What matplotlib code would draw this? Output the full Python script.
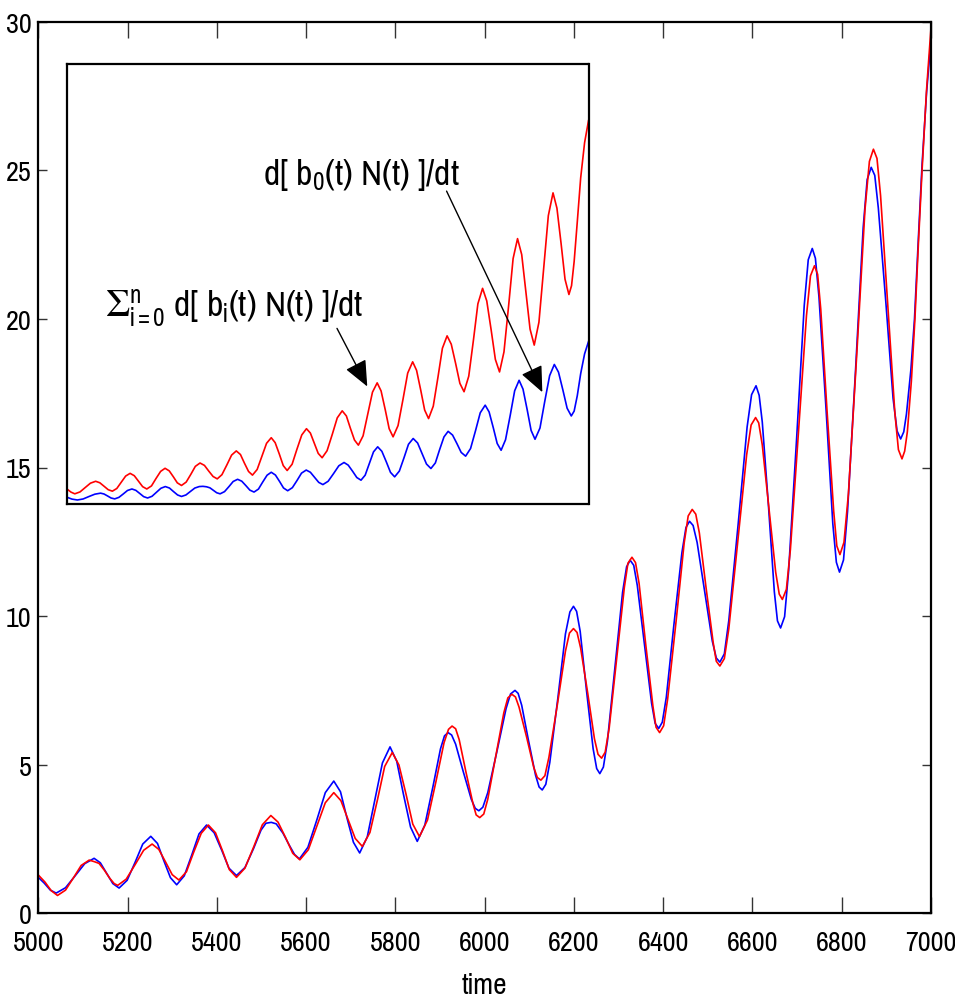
import matplotlib
matplotlib.use("Agg")
import matplotlib.pyplot as plt
from matplotlib import font_manager as fm

_names = {f.name for f in fm.fontManager.ttflist}
_cands = ['Nimbus Sans Narrow', 'Liberation Sans Narrow', 'Arial Narrow', 'Pragati Narrow',
          'Archivo Narrow', 'Roboto Condensed', 'PT Sans Narrow', 'Liberation Sans']
FONT = next((c for c in _cands if c in _names), 'DejaVu Sans')
plt.rcParams['font.family'] = [FONT, 'DejaVu Sans']
plt.rcParams['mathtext.fontset'] = 'custom'
plt.rcParams['mathtext.rm'] = FONT
plt.rcParams['mathtext.it'] = FONT
plt.rcParams['mathtext.bf'] = FONT
plt.rcParams['mathtext.sf'] = FONT

# ---------------- main plot data: (time, value) ----------------
blue_main = [
    (5000, 1.21), (5013, 1.02), (5027, 0.78), (5040, 0.68), (5061, 0.86), (5083, 1.27),
    (5104, 1.67), (5125, 1.85), (5139, 1.70), (5153, 1.35), (5167, 1.00), (5181, 0.85),
    (5199, 1.11), (5217, 1.72), (5234, 2.33), (5252, 2.59), (5267, 2.35), (5281, 1.78),
    (5296, 1.20), (5310, 0.96), (5327, 1.26), (5344, 1.97), (5360, 2.67), (5377, 2.97),
    (5394, 2.71), (5411, 2.12), (5427, 1.52), (5444, 1.27), (5463, 1.54), (5482, 2.17),
    (5499, 2.80), (5510, 3.03), (5522, 3.06), (5533, 3.01), (5548, 2.70), (5562, 2.30),
    (5574, 1.98), (5585, 1.83), (5604, 2.22), (5624, 3.14), (5643, 4.06), (5662, 4.45),
    (5677, 4.09), (5691, 3.24), (5706, 2.39), (5720, 2.03), (5737, 2.57), (5754, 3.82),
    (5771, 5.06), (5788, 5.60), (5803, 5.12), (5818, 4.01), (5834, 2.90), (5849, 2.42),
    (5866, 2.97), (5884, 4.25), (5901, 5.53), (5910, 5.97), (5918, 6.08), (5926, 6.00),
    (5935, 5.69), (5952, 4.77), (5970, 3.84), (5979, 3.53), (5987, 3.45), (5996, 3.57),
    (6007, 4.06), (6028, 5.48), (6048, 6.89), (6058, 7.38), (6068, 7.50), (6075, 7.40),
    (6083, 7.00), (6098, 5.83), (6114, 4.65), (6122, 4.25), (6129, 4.15), (6137, 4.34),
    (6146, 5.08), (6164, 7.24), (6181, 9.40), (6191, 10.14), (6199, 10.33), (6206, 10.16),
    (6214, 9.49), (6228, 7.52), (6243, 5.54), (6251, 4.87), (6258, 4.70), (6266, 4.92),
    (6275, 5.78), (6292, 8.29), (6309, 10.80), (6318, 11.66), (6326, 11.88), (6334, 11.71),
    (6342, 11.03), (6358, 9.05), (6374, 7.07), (6382, 6.39), (6390, 6.22), (6398, 6.43),
    (6407, 7.27), (6424, 9.71), (6442, 12.14), (6451, 12.98), (6459, 13.19), (6467, 13.05),
    (6476, 12.48), (6493, 10.82), (6510, 9.16), (6519, 8.59), (6527, 8.45), (6537, 8.73),
    (6547, 9.85), (6568, 13.10), (6588, 16.36), (6598, 17.45), (6608, 17.75), (6615, 17.43),
    (6622, 16.53), (6636, 13.68), (6649, 10.82), (6656, 9.84), (6663, 9.60), (6672, 9.98),
    (6681, 11.52), (6699, 15.99), (6716, 20.45), (6725, 21.99), (6734, 22.37), (6741, 22.04),
    (6749, 20.74), (6765, 16.93), (6780, 13.11), (6788, 11.81), (6795, 11.48), (6804, 11.89),
    (6813, 13.52), (6831, 18.29), (6848, 23.06), (6857, 24.69), (6866, 25.10), (6874, 24.83),
    (6882, 23.73), (6899, 20.53), (6915, 17.33), (6924, 16.23), (6932, 15.96), (6939, 16.2),
    (6945, 16.8), (6955, 18.3), (6963, 20.0), (6972, 22.8), (6980, 25.2), (6990, 27.6),
    (7000, 29.4)]

red_main = [
    (5000, 1.29), (5015, 1.05), (5029, 0.76), (5043, 0.60), (5061, 0.78), (5079, 1.20),
    (5096, 1.61), (5114, 1.79), (5125, 1.74), (5136, 1.68), (5148, 1.45), (5160, 1.18),
    (5170, 1.00), (5178, 0.94), (5197, 1.15), (5217, 1.64), (5236, 2.12), (5255, 2.33),
    (5270, 2.15), (5285, 1.73), (5300, 1.30), (5315, 1.12), (5332, 1.40), (5348, 2.05),
    (5365, 2.69), (5381, 2.97), (5397, 2.71), (5413, 2.09), (5428, 1.47), (5444, 1.21),
    (5463, 1.52), (5483, 2.25), (5502, 2.98), (5521, 3.29), (5537, 3.07), (5554, 2.55),
    (5570, 2.02), (5586, 1.80), (5605, 2.14), (5624, 2.93), (5643, 3.72), (5662, 4.06),
    (5678, 3.79), (5694, 3.16), (5710, 2.52), (5726, 2.25), (5743, 2.72), (5760, 3.83),
    (5776, 4.94), (5793, 5.41), (5808, 4.99), (5824, 4.00), (5839, 3.00), (5854, 2.58),
    (5872, 3.14), (5891, 4.44), (5909, 5.74), (5919, 6.19), (5927, 6.30), (5935, 6.21),
    (5943, 5.84), (5958, 4.76), (5974, 3.68), (5981, 3.31), (5989, 3.22), (5998, 3.34),
    (6007, 3.84), (6025, 5.30), (6043, 6.75), (6052, 7.25), (6061, 7.37), (6069, 7.28),
    (6077, 6.94), (6094, 5.93), (6110, 4.91), (6118, 4.57), (6126, 4.48), (6135, 4.63),
    (6144, 5.25), (6163, 7.03), (6181, 8.82), (6190, 9.43), (6199, 9.58), (6207, 9.45),
    (6215, 8.93), (6231, 7.40), (6246, 5.87), (6254, 5.35), (6262, 5.22), (6270, 5.42),
    (6279, 6.23), (6296, 8.60), (6313, 10.97), (6321, 11.78), (6330, 11.98), (6338, 11.80),
    (6346, 11.10), (6361, 9.03), (6377, 6.97), (6384, 6.26), (6392, 6.08), (6401, 6.31),
    (6410, 7.21), (6429, 9.84), (6447, 12.46), (6456, 13.37), (6465, 13.59), (6473, 13.43),
    (6481, 12.80), (6496, 10.96), (6512, 9.11), (6519, 8.48), (6527, 8.32), (6537, 8.57),
    (6547, 9.57), (6567, 12.50), (6587, 15.43), (6597, 16.43), (6607, 16.68), (6614, 16.50),
    (6622, 15.76), (6637, 13.62), (6652, 11.48), (6660, 10.74), (6667, 10.56), (6676, 10.90),
    (6685, 12.24), (6703, 16.18), (6721, 20.11), (6730, 21.45), (6739, 21.79), (6746, 21.50),
    (6753, 20.33), (6767, 16.93), (6782, 13.53), (6789, 12.36), (6796, 12.07), (6805, 12.48),
    (6815, 14.12), (6834, 18.89), (6852, 23.66), (6862, 25.30), (6871, 25.71), (6879, 25.40),
    (6887, 24.15), (6903, 20.50), (6919, 16.85), (6927, 15.60), (6935, 15.29), (6941, 15.55),
    (6947, 16.2), (6956, 17.9), (6964, 20.0), (6972, 22.6), (6980, 25.0), (6990, 27.7),
    (7000, 29.8)]

# ---------------- inset data (arbitrary units, 0-100 of inset height) ----------------
in_red_t = [5000, 5016, 5031, 5051, 5071, 5091, 5111, 5127, 5143, 5159, 5175,
            5192, 5209, 5226, 5243, 5259, 5275, 5291, 5307, 5325, 5342, 5360, 5377,
            5393, 5409, 5424, 5440, 5458, 5476, 5493, 5511, 5528, 5544, 5561, 5577,
            5595, 5614, 5632, 5650, 5666, 5681, 5697, 5712, 5730, 5748, 5766, 5784,
            5799, 5815, 5830, 5845, 5864, 5882, 5901, 5919, 5934, 5949, 5964, 5979,
            5998, 6018, 6037, 6056, 6072, 6087, 6103, 6118, 6136, 6154, 6172, 6190,
            6205, 6221, 6236, 6251, 6270, 6289, 6307, 6326, 6341, 6357, 6372, 6387,
            6405, 6423, 6440, 6458, 6474, 6491, 6507, 6523, 6541, 6559, 6576, 6594,
            6610, 6627, 6643, 6659, 6676, 6694, 6711, 6728, 6744, 6760, 6776, 6792,
            6810, 6828, 6846, 6864, 6879, 6895, 6910, 6925, 6935, 6945, 6957, 6970,
            6985, 7000]
in_red_v = [3.35, 2.6, 2.2, 2.63, 3.63, 4.62, 5.05, 4.71, 3.93, 3.14, 2.8,
            3.41, 4.83, 6.24, 6.85, 6.32, 5.08, 3.83, 3.3, 4.0, 5.65, 7.3, 8.0,
            7.42, 6.05, 4.69, 4.1, 4.87, 6.65, 8.44, 9.2, 8.66, 7.4, 6.14, 5.6,
            6.55, 8.78, 11.0, 11.95, 11.13, 9.2, 7.28, 6.45, 7.73, 10.7, 13.68, 14.95,
            13.83, 11.23, 8.62, 7.5, 8.93, 12.25, 15.58, 17.0, 16.01, 13.7, 11.39, 10.4,
            12.0, 15.73, 19.46, 21.06, 19.89, 17.16, 14.43, 13.26, 15.38, 20.34, 25.3, 27.42,
            25.58, 21.29, 16.99, 15.15, 17.71, 23.68, 29.64, 32.2, 30.27, 25.75, 21.24, 19.3,
            22.12, 28.7, 35.28, 38.1, 36.2, 31.75, 27.31, 25.4, 28.93, 37.15, 45.38, 48.9,
            46.05, 39.4, 32.75, 29.9, 34.45, 45.05, 55.66, 60.2, 56.57, 48.1, 39.63, 36.0,
            41.19, 53.3, 65.41, 70.6, 67.13, 59.05, 50.97, 47.5, 49.5, 55.0, 64.0, 74.0,
            82.0, 87.0]

in_blue_t = [5000, 5020, 5041, 5063, 5085, 5108, 5130, 5143, 5157, 5170, 5184,
             5200, 5217, 5233, 5250, 5265, 5280, 5295, 5310, 5327, 5344, 5361, 5378,
             5394, 5409, 5425, 5440, 5457, 5474, 5491, 5508, 5522, 5536, 5549, 5562,
             5575, 5588, 5605, 5622, 5638, 5655, 5671, 5687, 5702, 5718, 5735, 5751,
             5768, 5784, 5800, 5816, 5831, 5847, 5865, 5883, 5900, 5918, 5934, 5950,
             5966, 5982, 6002, 6023, 6043, 6063, 6079, 6096, 6112, 6128, 6144, 6160,
             6176, 6192, 6208, 6225, 6241, 6257, 6275, 6293, 6310, 6328, 6345, 6362,
             6379, 6396, 6413, 6429, 6446, 6462, 6479, 6496, 6512, 6529, 6548, 6567,
             6585, 6604, 6619, 6635, 6650, 6665, 6682, 6700, 6717, 6734, 6749, 6765,
             6780, 6795, 6814, 6832, 6851, 6869, 6885, 6902, 6918, 6934, 6945, 6957,
             6970, 6985, 7000]
in_blue_v = [1.45, 1.0, 0.8, 1.03, 1.58, 2.12, 2.35, 2.16, 1.7, 1.25, 1.05,
             1.39, 2.18, 2.96, 3.3, 2.99, 2.28, 1.56, 1.25, 1.64, 2.55, 3.46, 3.85,
             3.51, 2.73, 1.94, 1.6, 1.94, 2.73, 3.51, 3.85, 3.9, 3.8, 3.56, 3.0,
             2.44, 2.2, 2.7, 3.85, 5.0, 5.5, 5.07, 4.05, 3.04, 2.6, 3.28, 4.85,
             6.43, 7.1, 6.47, 5.0, 3.53, 2.9, 3.6, 5.25, 6.9, 7.6, 7.1, 5.95,
             4.8, 4.3, 5.05, 6.81, 8.57, 9.32, 8.72, 7.31, 5.9, 5.3, 6.44, 9.09,
             11.74, 12.88, 11.86, 9.47, 7.08, 6.06, 7.37, 10.42, 13.46, 14.77, 13.75, 11.36,
             8.97, 7.95, 9.22, 12.18, 15.13, 16.4, 15.55, 13.58, 11.61, 10.76, 12.5, 16.56,
             20.61, 22.35, 20.81, 17.23, 13.64, 12.1, 14.49, 20.05, 25.62, 28.0, 25.99, 21.3,
             16.61, 14.6, 17.15, 23.1, 29.05, 31.6, 29.85, 25.75, 21.66, 19.9, 21.0, 24.5,
             29.5, 34.0, 36.8]

x_ticks = [5000, 5200, 5400, 5600, 5800, 6000, 6200, 6400, 6600, 6800, 7000]
y_ticks = [0, 5, 10, 15, 20, 25, 30]
x_label = 'time'
label_b0 = r'd[ b$_0$(t) N(t) ]/dt'
label_sum = r'$\mathrm{Σ}^{n}_{i{=}0}$ d[ b$_i$(t) N(t) ]/dt'

blue_t = [p[0] for p in blue_main]
blue_v = [p[1] for p in blue_main]
red_t = [p[0] for p in red_main]
red_v = [p[1] for p in red_main]

W, H = 955, 1003
fig = plt.figure(figsize=(W / 100, H / 100), dpi=100)

TICK_FS = 22

# main axes: pixel box left 38, right 931, top 23, bottom 914
ax = fig.add_axes([38.3 / W, 1 - 914.3 / H, (931 - 38.3) / W, (914.3 - 22.7) / H])
ax.plot(blue_t, blue_v, color='#0000ff', lw=1.2)
ax.plot(red_t, red_v, color='#ff0000', lw=1.2)
ax.set_xlim(5000, 7000)
ax.set_ylim(0, 30)
ax.set_xticks(x_ticks)
ax.set_yticks(y_ticks)
ax.tick_params(axis='x', direction='in', length=11.5, width=1.0, top=True,
               labelsize=TICK_FS, pad=12, color='#333333')
ax.tick_params(axis='y', direction='in', length=6.5, width=1.0, right=True,
               labelsize=TICK_FS, pad=5, color='#333333')
for s in ax.spines.values():
    s.set_linewidth(1.6)
ax.set_xlabel(x_label, fontsize=TICK_FS + 1, labelpad=12)

# inset axes: pixel box left 66.7, right 588.5, top 64.5, bottom 504.5
ins = fig.add_axes([66.7 / W, 1 - 504.5 / H, (588.5 - 66.7) / W, 440 / H])
ins.plot(in_red_t, in_red_v, color='#ff0000', lw=1.2)
ins.plot(in_blue_t, in_blue_v, color='#0000ff', lw=1.2)
ins.set_xlim(5000, 7000)
ins.set_ylim(0, 100)
ins.set_xticks([])
ins.set_yticks([])
for s in ins.spines.values():
    s.set_linewidth(1.6)

ins.text(5751, 72.6, label_b0, fontsize=28, ha='left', va='baseline')
ins.text(5147, 42.6, label_sum, fontsize=28, ha='left', va='baseline')

arrow = dict(arrowstyle='-|>,head_length=0.8,head_width=0.35', color='black',
             lw=1.0, mutation_scale=20, shrinkA=0, shrinkB=0)
ins.annotate('', xy=(6823, 25.3), xytext=(6456, 71.0), arrowprops=arrow)
ins.annotate('', xy=(6152, 26.6), xytext=(6036, 39.8), arrowprops=arrow)

fig.savefig('out.png', dpi=100)
